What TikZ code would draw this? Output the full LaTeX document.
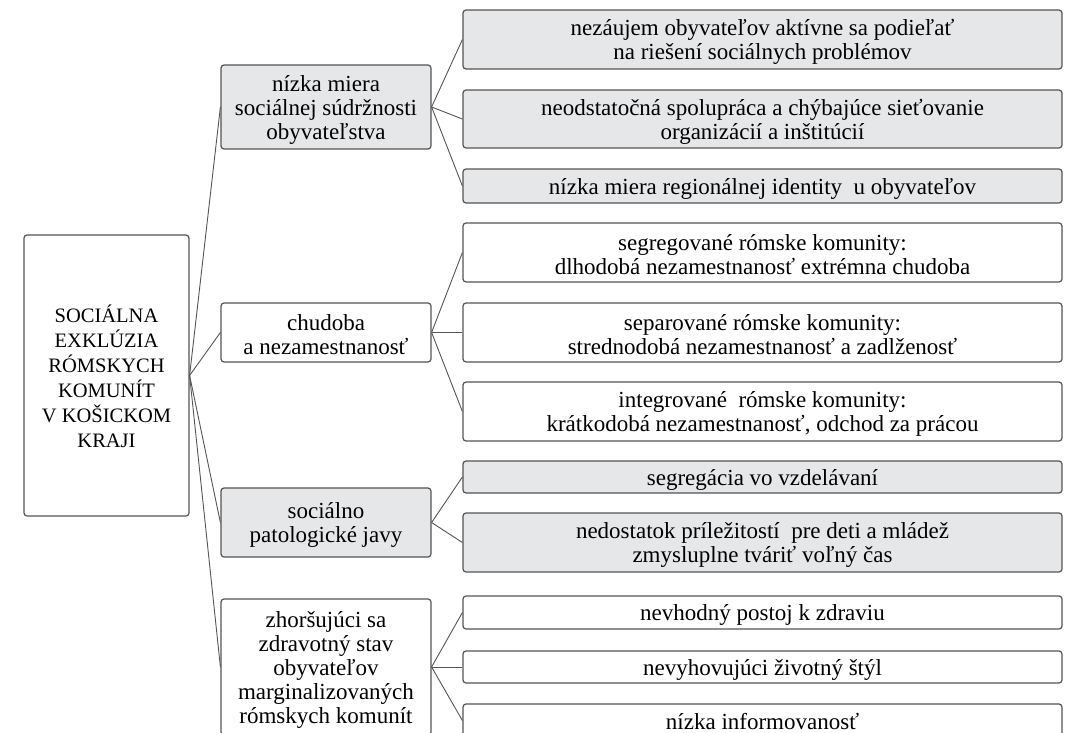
\documentclass[tikz,border=0pt]{standalone}
\usepackage{fontspec}
\setmainfont{Liberation Serif}
\definecolor{boxgray}{HTML}{E6E7E8}
\definecolor{linegray}{HTML}{555555}
\tikzset{
 frame/.style={draw=linegray, line width=1.2pt, rounded corners=3pt, inner sep=0pt},
 txt/.style={align=center, inner sep=0pt, font=\fontsize{23}{24}\selectfont, text=black},
 shade/.style={fill=boxgray},
 plain/.style={fill=white},
 link/.style={draw=linegray, line width=0.9pt},
}
% #1 name, #2 fill style, #3 x, #4 y, #5 width, #6 height, #7 text
\newcommand\mybox[7]{%
  \node[frame, #2, minimum width=#5pt, minimum height=#6pt] (#1) at (#3,#4) {};
  \node[txt, yshift=-2.5pt] (#1t) at (#1.center) {#7};}
\begin{document}
\begin{tikzpicture}[x=1pt,y=-1pt]
\useasboundingbox (0,0) rectangle (1068,733);
\clip (0,0) rectangle (1068,733);
% root
\node[frame, plain, minimum width=165pt, minimum height=281pt] (root) at (106.5,375.5) {};
\node[txt, font=\fontsize{20.5}{25}\selectfont, yshift=-1pt] (roott) at (root.center) {SOCIÁLNA\\EXKLÚZIA\\RÓMSKYCH\\KOMUNÍT\\V KOŠICKOM\\KRAJI};
% level 1
\mybox{a}{shade}{326}{107}{210}{84}{nízka miera\\sociálnej súdržnosti\\obyvateľstva}
\mybox{b}{plain}{326}{332.5}{210}{59}{chudoba\\a nezamestnanosť}
\mybox{c}{shade}{326}{522.5}{210}{69}{sociálno\\patologické javy}
\mybox{d}{plain}{326}{667}{210}{136}{zhoršujúci sa\\zdravotný stav\\obyvateľov\\marginalizovaných\\rómskych komunít}
% leaves
\mybox{l1}{shade}{762.5}{39.5}{599}{59}{nezáujem obyvateľov aktívne sa podieľať\\na riešení sociálnych problémov}
\mybox{l2}{shade}{762.5}{119}{599}{58}{neodstatočná spolupráca a chýbajúce sieťovanie\\organizácií a inštitúcií}
\mybox{l3}{shade}{762.5}{186}{599}{34}{nízka miera regionálnej identity\ \ u obyvateľov}
\mybox{l4}{plain}{762.5}{252.5}{599}{59}{segregované rómske komunity:\\dlhodobá nezamestnanosť extrémna chudoba}
\mybox{l5}{plain}{762.5}{332.5}{599}{59}{separované rómske komunity:\\strednodobá nezamestnanosť a zadlženosť}
\mybox{l6}{plain}{762.5}{411.5}{599}{59}{integrované\ \ rómske komunity:\\krátkodobá nezamestnanosť, odchod za prácou}
\mybox{l7}{shade}{762.5}{477}{599}{32}{segregácia vo vzdelávaní}
\mybox{l8}{shade}{762.5}{542.5}{599}{59}{nedostatok príležitostí\ \ pre deti a mládež\\zmysluplne tváriť voľný čas}
\mybox{l9}{plain}{762.5}{612.5}{599}{33}{nevhodný postoj k zdraviu}
\mybox{l10}{plain}{762.5}{667}{599}{32}{nevyhovujúci životný štýl}
\node[frame, plain, minimum width=599pt, minimum height=33pt] (l11) at (762.5,720.5) {};
\node[txt, yshift=-0.5pt] (l11t) at (l11.center) {nízka informovanosť};
% connectors
\foreach \t in {a,b,c,d} \draw[link] (root.east) -- (\t.west);
\foreach \t in {l1,l2,l3} \draw[link] (a.east) -- (\t.west);
\foreach \t in {l4,l5,l6} \draw[link] (b.east) -- (\t.west);
\foreach \t in {l7,l8} \draw[link] (c.east) -- (\t.west);
\foreach \t in {l9,l10,l11} \draw[link] (d.east) -- (\t.west);
\end{tikzpicture}
\end{document}
